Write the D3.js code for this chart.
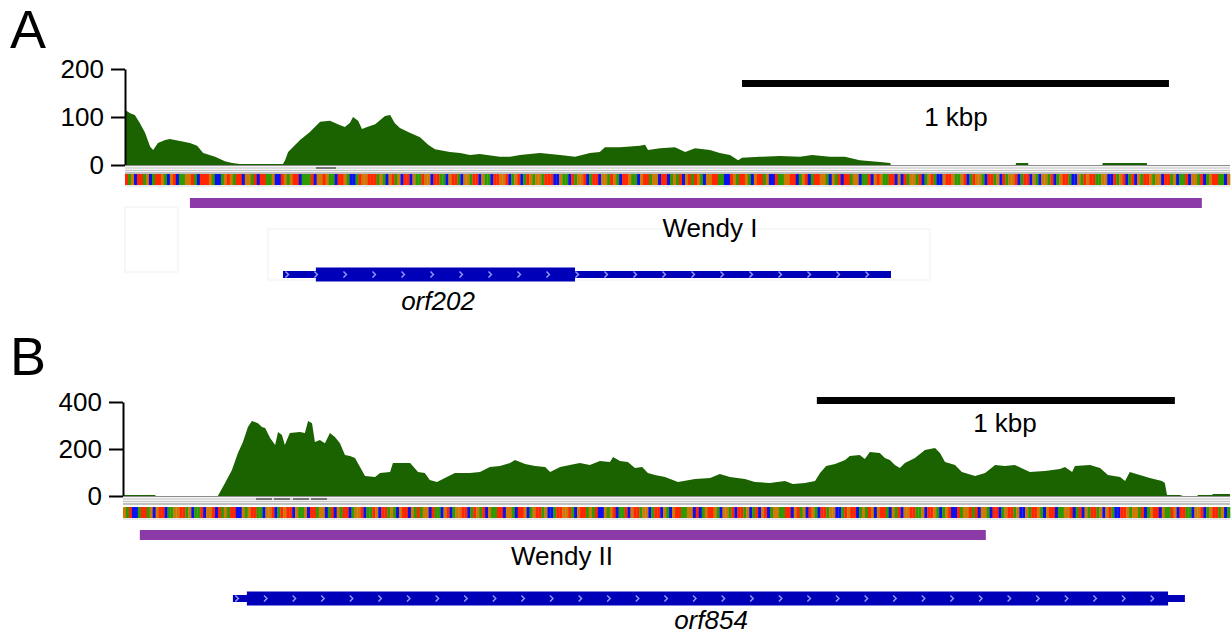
<!DOCTYPE html>
<html lang="en">
<head>
<meta charset="UTF-8">
<title>Wendy coverage</title>
<script src="https://cdn.jsdelivr.net/npm/d3@7"></script>
<style>
  body { margin: 0; background: #fff; }
  svg text { font-family: "Liberation Sans", Arial, sans-serif; fill: #000; }
</style>
</head>
<body>
<div id="chart"></div>
<script>
// ---- panel A data (positions in bp) ----
var covA_pos = [0,12,23,35,47,59,66,77,94,105,129,152,169,183,211,234,251,269,370,375,382,410,433,457,480,504,515,527,534,546,555,567,586,609,621,632,644,667,691,710,726,761,785,808,831,878,902,925,972,1019,1054,1089,1112,1124,1159,1206,1218,1225,1253,1288,1312,1335,1370,1393,1417,1436,1445,1487,1534,1581,1609,1651,1686,1721,1768,1792,1794,2086,2087,2115,2116,2289,2290,2393,2394,2588];
var covA_val = [115,108,104,87,67,38,31,46,52,54,50,46,40,25,17,8,4,2,2,10,27,52,69,90,92,83,79,88,100,92,75,79,85,102,104,87,77,67,58,42,33,27,25,21,23,17,17,21,25,21,17,25,27,37,37,40,42,31,35,37,27,35,31,25,21,10,15,17,19,17,21,17,17,10,6,4,0,0,4,4,0,0,4,4,0,0];
var yTicksA = [0, 100, 200];
var wendyA = {name: "Wendy I", start: 152, end: 2522};
var orfA = {name: "orf202", start: 370, end: 1794, cdsStart: 447, cdsEnd: 1054};
var scaleBarA = {start: 1445, end: 2445, label: "1 kbp"};
var seqA = "TAGCTTAGCATTGACGTCAAGGTACTTTGACCAGTGATTCGGATCTTAAGCCTGAGTTCAAATCGGTGAACTTGACCATGGTTTAGACGTAGCTTCGAATGGCTTAACGTTACGGATTCGAACTTGGTCAGTCATGAGGATTTCCGAACTAGGTCATTCGGATGACTTGAACGTTAGGCTTCAGATCGTATGACGGTTAACCTGATTGACGTTAGCCTAAGGTTCAGTCATTGGACGATCTTAGGCAATCGTGAATTCGCTAGGATCAGTACCGTTGAAGTCATGGACTTAGCTAGGTCATTCGACGGATCAGTTACCGATGTTAAGGCCTAGTCATCGATTGAGGCTTAGCAATCGGATCAGTTAACG";

// ---- panel B data ----
var covB_pos = [0,89,92,265,285,304,321,335,349,360,377,388,397,411,425,433,444,452,466,494,508,517,528,536,550,564,578,592,606,620,634,648,662,676,704,718,746,754,774,802,824,843,857,877,899,927,969,997,1025,1053,1081,1095,1123,1151,1179,1193,1221,1248,1276,1304,1332,1360,1369,1388,1410,1430,1450,1466,1486,1514,1550,1598,1640,1667,1695,1737,1765,1807,1849,1871,1905,1933,1947,1964,1989,2017,2030,2058,2072,2086,2114,2128,2142,2156,2170,2184,2212,2240,2268,2282,2296,2324,2343,2380,2408,2436,2463,2491,2533,2575,2617,2631,2651,2659,2701,2729,2751,2785,2799,2812,2840,2868,2902,2910,2916,2952,2961,3000,3003,3042,3044,3092];
var covB_val = [4,4,0,0,55,110,183,230,294,319,310,294,289,247,217,272,260,217,268,272,268,319,310,230,238,225,268,251,225,174,170,162,123,85,81,98,102,140,140,140,102,98,68,60,77,98,98,102,123,128,140,153,136,128,123,102,123,132,140,132,149,145,166,149,145,119,123,98,89,81,60,72,77,94,81,72,60,55,64,51,55,64,98,128,136,153,170,174,157,187,183,162,153,132,119,140,162,196,204,183,145,132,102,85,98,132,128,132,102,106,115,123,102,128,132,119,89,81,64,102,89,77,64,55,4,4,0,0,4,4,8,8];
var yTicksB = [0, 200, 400];
var wendyB = {name: "Wendy II", start: 47, end: 2410};
var orfB = {name: "orf854", start: 307, end: 2966, cdsStart: 346, cdsEnd: 2919};
var scaleBarB = {start: 1938, end: 2938, label: "1 kbp"};
var seqB = "GATCCATTAGCGTTCAAGGTTAGCAATCGGTCTAGATTCCGAGTTAACGGTCATGTTCGAAGCTTAGGCATCGATTCAGGTCAATGCTTAGACGTTCGATAGGCTAACGTCAGGTTCATGATCGAATTCGGACTTGCAGTTAGCCATTGGTACGTTAGATCCGAGTCAATCGTTAGGCATTCGACGTTAAGGCTCAGTTGACGGATCTTAGCATCGTCAGGAATTCGTAGCTGACTTAGGCCATGTTCAGATGCGTTACGATCGGTTAAGCTTGACAGTCCTAGGTATCGGACTTCAGTTAGCCGATTGACGTTCAAGGTCATCGATTAGCGTACCTTGAGGATCAGTTCGAATGCTTAACGGTCAGTTAGCA";

var baseColor = {A: "#2f9a00", C: "#0a10f0", G: "#d07805", T: "#ff2600"};

var width = 1232, height = 636;
var fontSize = 26;
var svg = d3.select("#chart").append("svg")
    .attr("width", width)
    .attr("height", height);

function drawPanel(p) {
    var g = svg.append("g");

    var x = d3.scaleLinear().domain([0, p.bpLen]).range([p.left, p.right]);
    var y = d3.scaleLinear().domain([0, p.yMax]).range([p.base, p.top]);

    // panel letter
    g.append("text").attr("x", 10).attr("y", p.letterY)
        .attr("font-size", 54).text(p.letter);

    // faint boxes left behind in the screenshot
    (p.ghosts || []).forEach(function(b) {
        g.append("rect").attr("x", b[0]).attr("y", b[1]).attr("width", b[2]).attr("height", b[3])
            .attr("fill", "none").attr("stroke", "#f5f5f5").attr("stroke-width", 1.5);
    });

    // coverage
    var area = d3.area()
        .x(function(d) { return x(d[0]); })
        .y0(p.base)
        .y1(function(d) { return y(d[1]); });
    g.append("path")
        .datum(d3.zip(p.pos, p.val))
        .attr("d", area)
        .attr("fill", "#1b6200");

    // y axis
    var axis = d3.axisLeft(y).tickValues(p.ticks).tickSize(14).tickSizeOuter(0).tickPadding(7);
    var ag = g.append("g").attr("transform", "translate(" + p.left + ",0)").call(axis);
    ag.selectAll("path,line").attr("stroke", "#000").attr("stroke-width", 2);
    ag.selectAll("text").attr("font-size", fontSize).attr("font-family", "Liberation Sans, Arial, sans-serif");

    // grey ruler lines under the coverage
    var gy = p.base;
    g.append("rect").attr("x", p.left).attr("y", gy).attr("width", p.right - p.left).attr("height", 9).attr("fill", "#f4f4f4");
    [[0.5, "#8c8c8c"], [3, "#c4c4c4"], [5.5, "#c4c4c4"], [8, "#8c8c8c"]].forEach(function(l) {
        g.append("line").attr("x1", p.left).attr("x2", p.right)
            .attr("y1", gy + l[0]).attr("y2", gy + l[0])
            .attr("stroke", l[1]).attr("stroke-width", 1.2);
    });
    (p.dashes || []).forEach(function(d) {
        g.append("line").attr("x1", d[0]).attr("x2", d[1]).attr("y1", gy + 3).attr("y2", gy + 3)
            .attr("stroke", "#555").attr("stroke-width", 1.5);
    });

    // sequence track
    var seq = p.seq.split("");
    var sx = d3.scaleBand().domain(d3.range(seq.length)).range([p.left, p.right]);
    g.append("g").selectAll("rect")
        .data(seq)
        .enter()
        .append("rect")
        .attr("x", function(d, i) { return sx(i); })
        .attr("y", p.seqY)
        .attr("width", sx.bandwidth() + 0.3)
        .attr("height", 11)
        .attr("fill", function(d) { return baseColor[d]; });
    g.append("line").attr("x1", p.left).attr("x2", p.right)
        .attr("y1", p.seqY + 12).attr("y2", p.seqY + 12)
        .attr("stroke", "#e2e2e2").attr("stroke-width", 1.5);

    // scale bar
    g.append("rect").attr("x", x(p.bar.start)).attr("y", p.barY)
        .attr("width", x(p.bar.end) - x(p.bar.start)).attr("height", 7).attr("fill", "#000");
    g.append("text").attr("x", p.barLabelX).attr("y", p.barLabelY)
        .attr("text-anchor", "middle").attr("font-size", fontSize).text(p.bar.label);

    // repeat element
    g.append("rect").attr("x", x(p.rep.start)).attr("y", p.repY)
        .attr("width", x(p.rep.end) - x(p.rep.start)).attr("height", 10).attr("fill", "#8d3aa9");
    g.append("text").attr("x", p.repLabelX).attr("y", p.repLabelY)
        .attr("text-anchor", "middle").attr("font-size", fontSize).text(p.rep.name);

    // gene model
    var gc = p.geneY;
    g.append("rect").attr("x", x(p.orf.start)).attr("y", gc - 3.5)
        .attr("width", x(p.orf.end) - x(p.orf.start)).attr("height", 7).attr("fill", "#0000b8");
    g.append("rect").attr("x", x(p.orf.cdsStart)).attr("y", gc - 7)
        .attr("width", x(p.orf.cdsEnd) - x(p.orf.cdsStart)).attr("height", 14).attr("fill", "#0000b8");
    g.append("g").selectAll("path")
        .data(d3.range(x(p.orf.start) + 4, x(p.orf.end) - 8, p.chevStep))
        .enter()
        .append("path")
        .attr("d", function(cx) { return "M" + (cx - 1.5) + "," + (gc - 3) + "L" + (cx + 1.5) + "," + gc + "L" + (cx - 1.5) + "," + (gc + 3); })
        .attr("fill", "none").attr("stroke", "#9a9aff").attr("stroke-width", 1.4);
    g.append("text").attr("x", p.orfLabelX).attr("y", p.orfLabelY)
        .attr("text-anchor", "middle").attr("font-size", fontSize).attr("font-style", "italic")
        .text(p.orf.name);
}

drawPanel({
    letter: "A", letterY: 48,
    left: 125, right: 1230, bpLen: 2588,
    base: 165, top: 69, yMax: 200, ticks: yTicksA,
    pos: covA_pos, val: covA_val,
    seq: seqA, seqY: 174,
    dashes: [[316, 336]],
    bar: scaleBarA, barY: 80, barLabelX: 956, barLabelY: 126,
    rep: wendyA, repY: 198, repLabelX: 710, repLabelY: 237,
    orf: orfA, geneY: 274.5, orfLabelX: 438, orfLabelY: 310, chevStep: 29,
    ghosts: [[125, 207, 53, 65], [268, 229, 662, 51]]
});

drawPanel({
    letter: "B", letterY: 375,
    left: 123, right: 1230, bpLen: 3092,
    base: 496, top: 402, yMax: 400, ticks: yTicksB,
    pos: covB_pos, val: covB_val,
    seq: seqB, seqY: 507,
    dashes: [[256, 272], [274, 290], [293, 309], [311, 327]],
    bar: scaleBarB, barY: 397, barLabelX: 1005, barLabelY: 432,
    rep: wendyB, repY: 530, repLabelX: 562, repLabelY: 565,
    orf: orfB, geneY: 598.5, orfLabelX: 711, orfLabelY: 629, chevStep: 28.6
});
</script>
</body>
</html>
